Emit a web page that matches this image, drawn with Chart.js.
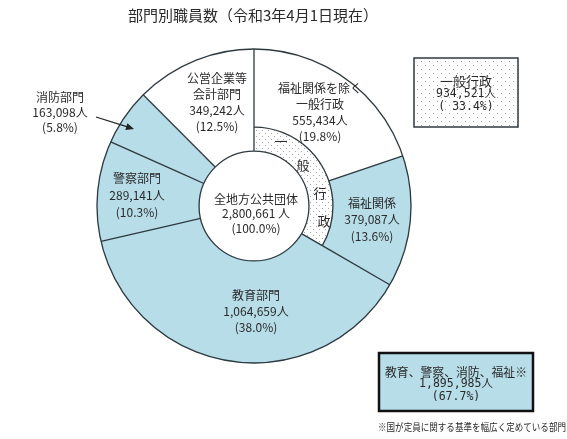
<!DOCTYPE html>
<html lang="ja">
<head>
  <meta charset="UTF-8">
  <title>部門別職員数</title>
  <script src="https://cdn.jsdelivr.net/npm/chart.js"></script>
  <style>
    body {
      margin: 0;
      padding: 0;
      background-color: #fff;
    }
    #chart-container {
      width: 567px;
      height: 439px;
    }
  </style>
</head>
<body>
  <div id="chart-container">
    <canvas id="staffChart" width="567" height="439"></canvas>
  </div>

  <script>
    // Outer ring, clockwise from the top
    const outerNames = [['福祉関係を除く', '一般行政'], ['福祉関係'], ['教育部門'], ['警察部門'], ['消防部門'], ['公営企業等', '会計部門']];
    const outerValues = [555434, 379087, 1064659, 289141, 163098, 349242];
    const outerPercents = [19.8, 13.6, 38.0, 10.3, 5.8, 12.5];

    // Inner ring: the two general-administration parts merged
    const innerNames = ['一般行政', '教育部門', '警察部門', '消防部門', '公営企業等会計部門'];
    const innerValues = [934521, 1064659, 289141, 163098, 349242];

    const totalName = '全地方公共団体';
    const totalValue = 2800661;
    const generalName = '一般行政';
    const generalValue = 934521;
    const generalPercent = 33.4;
    const specifiedName = '教育、警察、消防、福祉※';
    const specifiedValue = 1895985;
    const specifiedPercent = 67.7;

    const titleText = '部門別職員数（令和3年4月1日現在）';
    const footnoteText = '※国が定員に関する基準を幅広く定めている部門';

    const blue = '#b7dde8';
    const lineColor = '#2f3a40';
    const textColor = '#2a2a2a';
    const jp = '"Noto Sans CJK JP", sans-serif';
    const mono = '"DejaVu Sans Mono", "Noto Sans CJK JP", monospace';

    // small dot patterns for the 一般行政 fills
    function dots(size, color, spots) {
      const c = document.createElement('canvas');
      c.width = size;
      c.height = size;
      const g = c.getContext('2d');
      g.fillStyle = '#fff';
      g.fillRect(0, 0, size, size);
      g.fillStyle = color;
      spots.forEach(p => g.fillRect(p[0], p[1], 1, 1));
      return g.createPattern(c, 'repeat');
    }
    const ringDots = dots(6, '#a8a8a8', [[1, 1], [4, 4]]);
    const boxDots = dots(8, '#9a9a9a', [[1, 1], [5, 5]]);

    const outerFill = ['#fff', blue, blue, blue, blue, '#fff'];
    const innerFill = [ringDots, blue, blue, blue, '#fff'];

    const fmt = v => v.toLocaleString('en-US');
    const pct = p => '(' + p.toFixed(1) + '%)';

    // where each outer-ring label goes: x, first line y, line height
    const labelSpots = [
      { x: 320, y: 88, lh: 16 },
      { x: 372, y: 203, lh: 16.5 },
      { x: 256, y: 295, lh: 16 },
      { x: 137, y: 178, lh: 17 },
      { x: 60, y: 97, lh: 15 },
      { x: 217, y: 78, lh: 16.3 }
    ];
    const verticalSpots = [[281, 141], [303, 165], [320, 193], [324, 221]];

    function drawLines(ctx, lines, x, y, lh, font, maxW) {
      ctx.font = font;
      lines.forEach((t, i) => ctx.fillText(t, x, y + i * lh, maxW));
    }

    const outlinePlugin = {
      id: 'outline',
      afterDatasetsDraw(chart) {
        const ctx = chart.ctx;
        const outer = chart.getDatasetMeta(0).data;
        const inner = chart.getDatasetMeta(1).data;
        const cx = outer[0].x;
        const cy = outer[0].y;
        ctx.save();
        ctx.strokeStyle = lineColor;
        ctx.lineWidth = 1.3;
        const radial = (a, r0, r1) => {
          ctx.beginPath();
          ctx.moveTo(cx + r0 * Math.cos(a), cy + r0 * Math.sin(a));
          ctx.lineTo(cx + r1 * Math.cos(a), cy + r1 * Math.sin(a));
          ctx.stroke();
        };
        outer.forEach(el => radial(el.startAngle, el.innerRadius, el.outerRadius));
        inner.forEach(el => radial(el.startAngle, el.innerRadius, el.outerRadius));
        ctx.beginPath();
        ctx.arc(cx, cy, outer[0].outerRadius, 0, Math.PI * 2);
        ctx.stroke();
        ctx.beginPath();
        ctx.arc(cx, cy, inner[0].innerRadius, 0, Math.PI * 2);
        ctx.stroke();
        const g = inner[0];
        ctx.beginPath();
        ctx.arc(cx, cy, g.outerRadius, g.startAngle, g.endAngle);
        ctx.stroke();
        ctx.restore();
      },
      afterDraw(chart) {
        const ctx = chart.ctx;
        ctx.save();
        ctx.fillStyle = textColor;
        ctx.textAlign = 'center';
        ctx.textBaseline = 'middle';

        // title
        ctx.font = '15px ' + jp;
        ctx.fillText(titleText, 253, 15, 256);

        // ring labels
        outerNames.forEach((name, i) => {
          const s = labelSpots[i];
          const lines = name.concat([fmt(outerValues[i]) + '人', pct(outerPercents[i])]);
          drawLines(ctx, lines, s.x, s.y, s.lh, '12px ' + jp);
        });
        drawLines(ctx, [totalName, fmt(totalValue) + ' 人', pct(100)], 256, 199, 14.5, '12px ' + jp);

        // 一般行政 written down the dotted ring
        ctx.font = '13px ' + jp;
        generalName.split('').forEach((ch, i) => ctx.fillText(ch, verticalSpots[i][0], verticalSpots[i][1]));

        // arrow for 消防部門
        ctx.strokeStyle = '#222';
        ctx.fillStyle = '#222';
        ctx.lineWidth = 1.2;
        const ax0 = 96, ay0 = 117, ax1 = 134, ay1 = 129;
        const ang = Math.atan2(ay1 - ay0, ax1 - ax0);
        ctx.beginPath();
        ctx.moveTo(ax0, ay0);
        ctx.lineTo(ax1 - 6 * Math.cos(ang), ay1 - 6 * Math.sin(ang));
        ctx.stroke();
        ctx.beginPath();
        ctx.moveTo(ax1, ay1);
        ctx.lineTo(ax1 - 8 * Math.cos(ang) + 3.5 * Math.sin(ang), ay1 - 8 * Math.sin(ang) - 3.5 * Math.cos(ang));
        ctx.lineTo(ax1 - 8 * Math.cos(ang) - 3.5 * Math.sin(ang), ay1 - 8 * Math.sin(ang) + 3.5 * Math.cos(ang));
        ctx.closePath();
        ctx.fill();

        // 一般行政 box
        ctx.fillStyle = boxDots;
        ctx.fillRect(414, 58, 104, 69);
        ctx.strokeStyle = lineColor;
        ctx.lineWidth = 1.5;
        ctx.strokeRect(414, 58, 104, 69);
        ctx.fillStyle = textColor;
        ctx.font = '13px ' + jp;
        ctx.fillText(generalName, 466, 81);
        ctx.font = '11.5px ' + mono;
        ctx.fillText(fmt(generalValue) + '人', 466, 94);
        ctx.fillText('( ' + generalPercent.toFixed(1) + '%)', 466, 107);

        // specified departments box
        ctx.fillStyle = blue;
        ctx.fillRect(379, 353, 154, 58);
        ctx.strokeStyle = '#111';
        ctx.lineWidth = 2.5;
        ctx.strokeRect(379, 353, 154, 58);
        ctx.fillStyle = textColor;
        ctx.font = '12px ' + jp;
        ctx.fillText(specifiedName, 456, 372, 142);
        ctx.font = '11.5px ' + mono;
        ctx.fillText(fmt(specifiedValue) + '人', 456, 384);
        ctx.fillText(pct(specifiedPercent), 456, 397);

        // footnote
        ctx.fillStyle = textColor;
        ctx.font = '10px ' + jp;
        ctx.fillText(footnoteText, 472, 427, 188);
        ctx.restore();
      }
    };

    const ctx = document.getElementById('staffChart').getContext('2d');
    const chart = new Chart(ctx, {
      type: 'doughnut',
      data: {
        labels: outerNames.map(n => n.join('')),
        datasets: [
          {
            data: outerValues,
            backgroundColor: outerFill,
            borderColor: outerFill,
            borderWidth: 1,
            weight: 78
          },
          {
            data: innerValues,
            backgroundColor: innerFill,
            borderColor: innerFill,
            borderWidth: 1,
            weight: 24
          }
        ]
      },
      options: {
        responsive: false,
        animation: false,
        radius: 157,
        cutout: '35%',
        hoverOffset: 0,
        layout: {
          padding: { left: 97, right: 156, top: 49, bottom: 76 }
        },
        plugins: {
          legend: { display: false },
          tooltip: { enabled: false }
        }
      },
      plugins: [outlinePlugin]
    });
  </script>
</body>
</html>
